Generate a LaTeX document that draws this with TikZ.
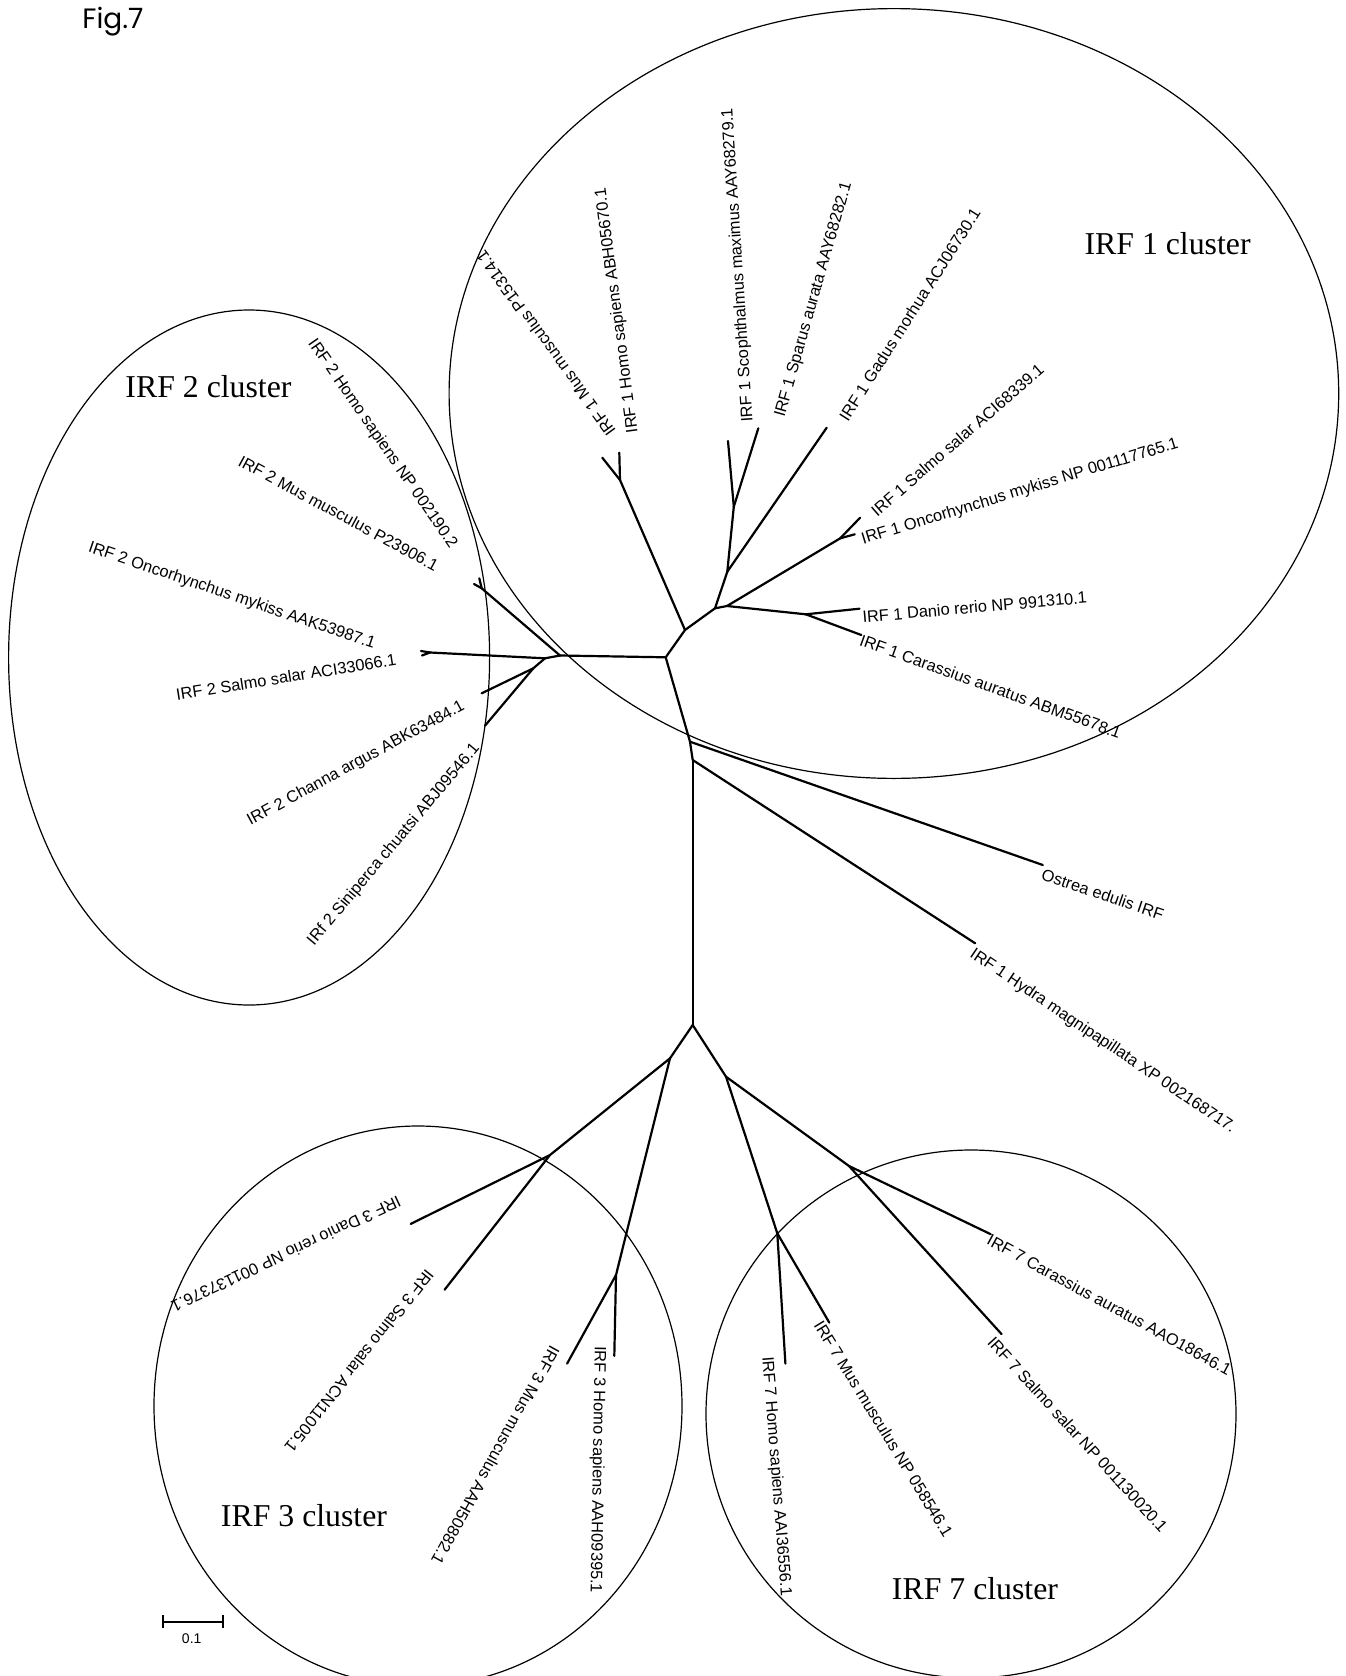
\documentclass[tikz,border=0pt]{standalone}
\usepackage{fontspec}
\setmainfont{Liberation Serif}
\newfontfamily\arialfont{Liberation Sans}
\newfontfamily\figfont{Poppins}
\usetikzlibrary{calc}

\tikzset{
  branch/.style={line width=1.1pt,line cap=round,line join=round},
  ring/.style={line width=0.6pt},
  leaf/.style={font=\arialfont\fontsize{8.2}{9.8}\selectfont,
               inner sep=1pt,anchor=north west},
  leafL/.style={font=\arialfont\fontsize{8.2}{9.8}\selectfont,
                inner sep=0pt,anchor=east},
  clustername/.style={font=\fontsize{15.9}{19}\selectfont,inner sep=0pt},
  scalebar/.style={line width=1.1pt}
}

\begin{document}
\begin{tikzpicture}[x=0.5pt,y=-0.5pt]
  \useasboundingbox (0,0) rectangle (1345,1676);

  \node[font=\figfont\fontsize{14}{16}\selectfont,anchor=base west,
        inner sep=0pt] (figlbl) at (82,28.5) {Fig.7};

  % cluster rings
  \draw[ring] (893.9,393.5) ellipse [x radius=444.8,y radius=384.9];
  \draw[ring] (249.1,657.5) ellipse [x radius=240.5,y radius=347.5];
  \draw[ring] (418,1406) ellipse [x radius=264,y radius=280];
  \draw[ring] (971,1414) ellipse [x radius=265,y radius=264];

  \node[clustername] (c1) at (1167.6,243.8) {IRF 1 cluster};
  \node[clustername] (c2) at (208.5,387) {IRF 2 cluster};
  \node[clustername] (c3) at (304,1516) {IRF 3 cluster};
  \node[clustername] (c7) at (975,1588.8) {IRF 7 cluster};

  % inner nodes
  \coordinate (A) at (665.7,657.3);
  \coordinate (B) at (685,630);
  \coordinate (D) at (620,480);
  \coordinate (C) at (715,608.3);
  \coordinate (C2) at (727,606);
  \coordinate (E) at (727.3,571.7);
  \coordinate (F) at (733.8,506.7);
  \coordinate (G) at (840.2,538.3);
  \coordinate (H) at (805.8,614.3);
  \coordinate (P2a) at (560,655.5);
  \coordinate (P2b) at (545,658.3);
  \coordinate (J2a) at (481.7,588.3);
  \coordinate (J2s) at (430,652.5);
  \coordinate (J2c) at (533.3,668.3);
  \coordinate (Q1) at (690,741.7);
  \coordinate (Q2) at (692.7,760);
  \coordinate (K) at (692.7,1025);
  \coordinate (L) at (670,1058.3);
  \coordinate (M) at (550,1155);
  \coordinate (N) at (616,1275);
  \coordinate (R) at (726,1076.7);
  \coordinate (S) at (777.3,1233.3);
  \coordinate (T) at (849,1166);

  % tips
  \coordinate (m1) at (602.3,457.7);
  \coordinate (h1) at (619.3,452.7);
  \coordinate (sc1) at (728,441);
  \coordinate (sp1) at (758.3,428.3);
  \coordinate (g1) at (826.7,427.7);
  \coordinate (sa1) at (860.1,517.7);
  \coordinate (on1) at (854.8,534.3);
  \coordinate (da1) at (859.4,608.7);
  \coordinate (ca1) at (861.3,635);
  \coordinate (h2) at (479.3,578.3);
  \coordinate (m2) at (474,584);
  \coordinate (o2) at (421,651);
  \coordinate (s2) at (422,655.5);
  \coordinate (ch2) at (481.7,693.3);
  \coordinate (si2) at (485,725.7);
  \coordinate (os) at (1042.8,865);
  \coordinate (hy) at (975.2,943.3);
  \coordinate (da3) at (410.7,1223.9);
  \coordinate (sa3) at (444.6,1289.7);
  \coordinate (mu3) at (567.1,1363.6);
  \coordinate (ho3) at (614.3,1355.9);
  \coordinate (ho7) at (785.4,1363.6);
  \coordinate (mu7) at (829.3,1322.6);
  \coordinate (sa7) at (1001.5,1334);
  \coordinate (ca7) at (990.7,1234.2);

  \foreach \f/\t in {A/B,B/D,D/m1,D/h1,B/C,C/E,E/F,F/sc1,F/sp1,E/g1,
                     C/C2,C2/G,G/sa1,G/on1,C2/H,H/da1,H/ca1,
                     A/P2a,P2a/J2a,J2a/h2,J2a/m2,P2a/P2b,P2b/J2s,J2s/o2,J2s/s2,
                     P2b/J2c,J2c/ch2,J2c/si2,
                     A/Q1,Q1/os,Q1/Q2,Q2/hy,Q2/K,
                     K/L,L/M,M/da3,M/sa3,L/N,N/mu3,N/ho3,
                     K/R,R/S,S/ho7,S/mu7,R/T,T/sa7,T/ca7}
    \draw[branch] (\f) -- (\t);

  % leaf labels
  \node[leaf,rotate=126] (m1lbl) at ([shift={(4,-16.5)}]m1) {IRF 1 Mus musculus P15314.1};
  \node[leaf,rotate=97.5] (h1lbl) at ([shift={(4.5,-16)}]h1) {IRF 1 Homo sapiens ABH05670.1};
  \node[leaf,rotate=93.7] (sc1lbl) at ([shift={(10.5,-16)}]sc1) {IRF 1 Scophthalmus maximus AAY68279.1};
  \node[leaf,rotate=74] (sp1lbl) at ([shift={(12,-12)}]sp1) {IRF 1 Sparus aurata AAY68282.1};
  \node[leaf,rotate=57.5] (g1lbl) at ([shift={(8,-11)}]g1) {IRF 1 Gadus morhua ACJ06730.1};
  \node[leaf,rotate=41] (sa1lbl) at ([shift={(6,-9.5)}]sa1) {IRF 1 Salmo salar ACI68339.1};
  \node[leaf,rotate=17] (on1lbl) at ([shift={(2,-3)}]on1) {IRF 1 Oncorhynchus mykiss NP 001117765.1};
  \node[leaf,rotate=5] (da1lbl) at (da1) {IRF 1 Danio rerio NP 991310.1};
  \node[leaf,rotate=-19.8] (ca1lbl) at ([shift={(0,-4)}]ca1) {IRF 1 Carassius auratus ABM55678.1};

  \node[leafL,rotate=-55.3] (h2lbl) at ([shift={(-25.7,-31.6)}]h2) {IRF 2 Homo sapiens NP 002190.2};
  \node[leafL,rotate=-28.4] (m2lbl) at ([shift={(-36.5,-17.3)}]m2) {IRF 2 Mus musculus P23906.1};
  \node[leafL,rotate=-18.8] (o2lbl) at ([shift={(-46,-6)}]o2) {IRF 2 Oncorhynchus mykiss AAK53987.1};
  \node[leafL,rotate=9] (s2lbl) at ([shift={(-25.6,4)}]s2) {IRF 2 Salmo salar ACI33066.1};
  \node[leafL,rotate=28.5] (ch2lbl) at ([shift={(-18,12)}]ch2) {IRF 2 Channa argus ABK63484.1};
  \node[leafL,rotate=50] (si2lbl) at ([shift={(-8,20)}]si2) {IRf 2 Siniperca chuatsi ABJ09546.1};

  \node[leaf,rotate=-18.8] (oslbl) at (os) {Ostrea edulis IRF};
  \node[leaf,rotate=-34] (hylbl) at (hy) {IRF 1 Hydra magnipapillata XP 002168717.};

  \node[leaf,rotate=205] (da3lbl) at ([shift={(-5,-16)}]da3) {IRF 3 Danio rerio NP 001137376.1};
  \node[leaf,rotate=231.5] (sa3lbl) at ([shift={(-6,-14.5)}]sa3) {IRF 3 Salmo salar ACN11005.1};
  \node[leaf,rotate=241] (mu3lbl) at ([shift={(-3,-14)}]mu3) {IRF 3 Mus musculus AAH50882.1};
  \node[leaf,rotate=269] (ho3lbl) at ([shift={(-5,-12)}]ho3) {IRF 3 Homo sapiens AAH09395.1};

  \node[leaf,rotate=-85.5] (ho7lbl) at ([shift={(-9,-10)}]ho7) {IRF 7 Homo sapiens AAI36556.1};
  \node[leaf,rotate=-58.5] (mu7lbl) at ([shift={(-5,-7)}]mu7) {IRF 7 Mus musculus NP 058546.1};
  \node[leaf,rotate=-47.6] (sa7lbl) at ([shift={(-6,-2)}]sa7) {IRF 7 Salmo salar NP 001130020.1};
  \node[leaf,rotate=-28.7] (ca7lbl) at ([shift={(0,-4)}]ca7) {IRF 7 Carassius auratus AAO18646.1};

  % scale bar
  \coordinate (sbL) at (162.7,1621.7);
  \coordinate (sbR) at (223.3,1621.7);
  \draw[scalebar] (sbL) -- (sbR);
  \draw[scalebar] ($(sbL)+(0,-6.5)$) -- ($(sbL)+(0,6.5)$);
  \draw[scalebar] ($(sbR)+(0,-6.5)$) -- ($(sbR)+(0,6.5)$);
  \node[font=\arialfont\fontsize{7}{8}\selectfont] (sblbl) at (191.7,1638.3) {0.1};
\end{tikzpicture}
\end{document}
